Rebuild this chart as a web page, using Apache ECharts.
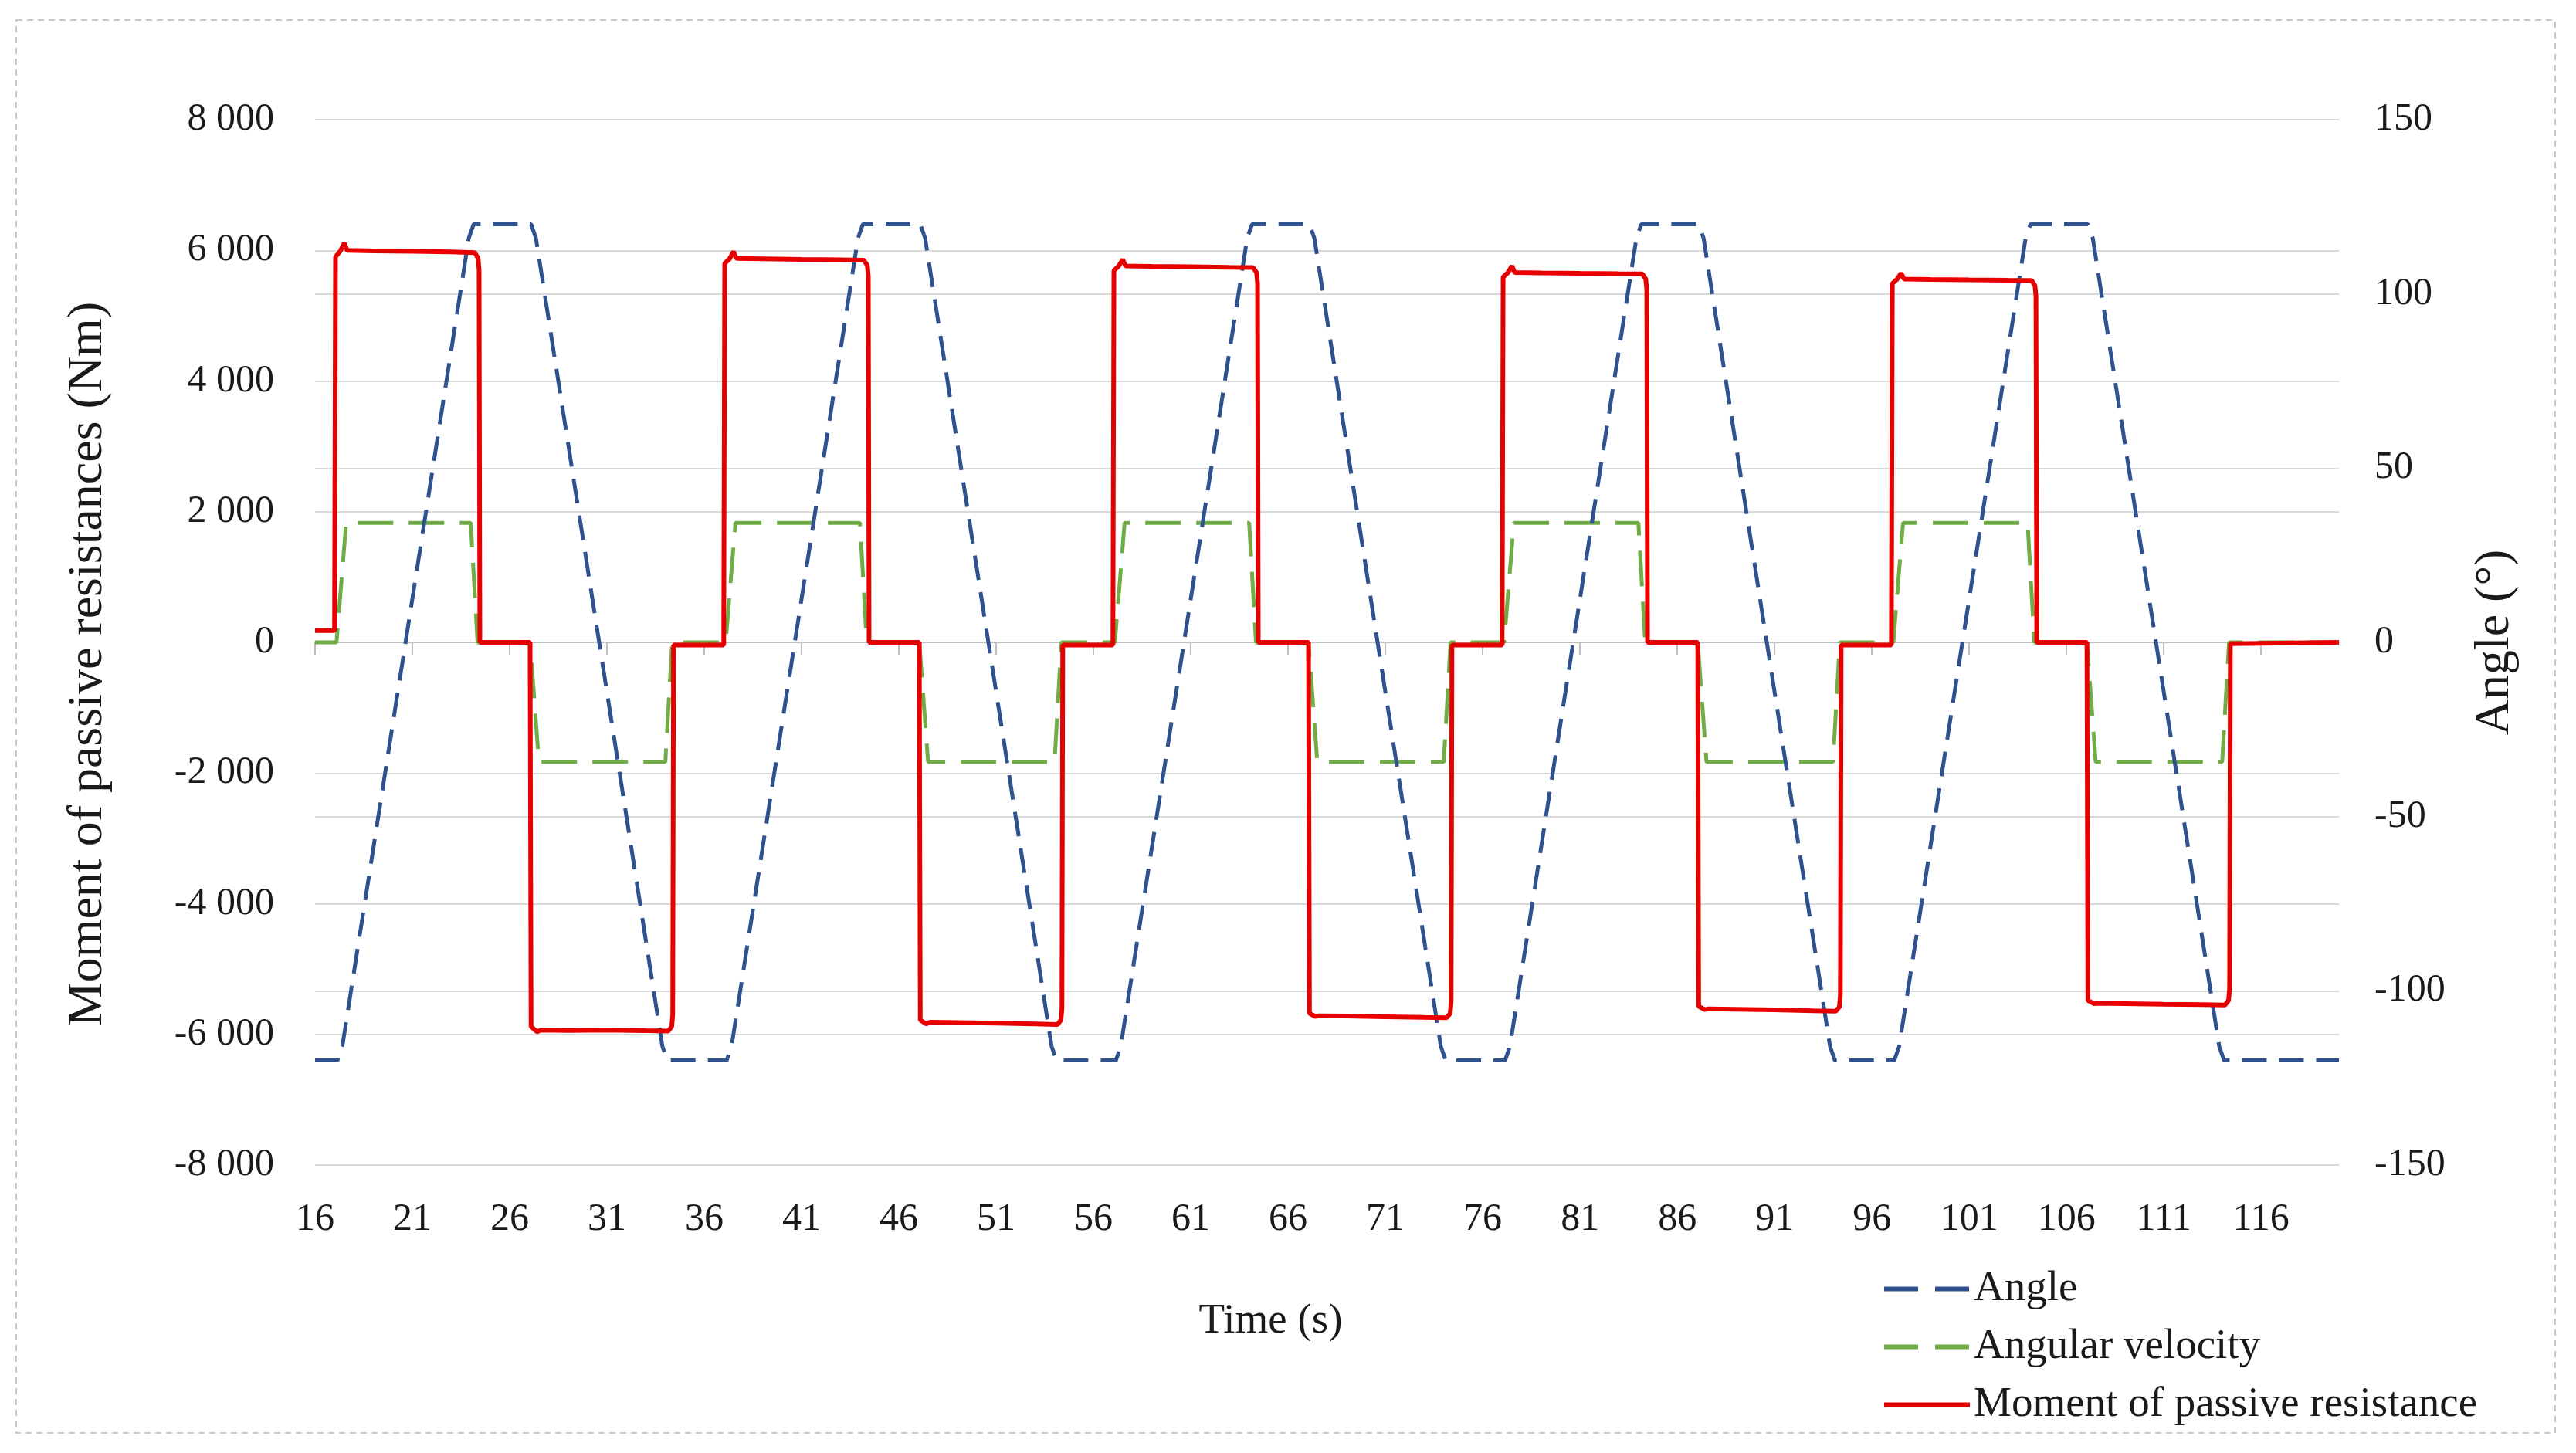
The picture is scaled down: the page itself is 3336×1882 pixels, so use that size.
<!DOCTYPE html>
<html>
<head>
<meta charset="utf-8">
<script src="https://cdn.jsdelivr.net/npm/echarts@6/dist/echarts.min.js"></script>
<style>
html,body{margin:0;padding:0;background:#fff;}
#chart{width:3336px;height:1882px;}
</style>
</head>
<body>
<div id="chart"></div>
<script>
// ---- data ----
var xTickValues = [16,21,26,31,36,41,46,51,56,61,66,71,76,81,86,91,96,101,106,111,116];
var leftTicks = [-8000,-6000,-4000,-2000,0,2000,4000,6000,8000];
var rightTicks = [-150,-100,-50,0,50,100,150];

// Angle (deg), [time s, value]
var angleData = [
[16,-120],[17.15,-120],[17.4,-116],[23.9,116],[24.15,120],[27.1,120],[27.35,116],[33.85,-116],[34.1,-120],
[37.15,-120],[37.4,-116],[43.9,116],[44.15,120],[47.1,120],[47.35,116],[53.85,-116],[54.1,-120],
[57.15,-120],[57.4,-116],[63.9,116],[64.15,120],[67.1,120],[67.35,116],[73.85,-116],[74.1,-120],
[77.15,-120],[77.4,-116],[83.9,116],[84.15,120],[87.1,120],[87.35,116],[93.85,-116],[94.1,-120],
[97.15,-120],[97.4,-116],[103.9,116],[104.15,120],[107.1,120],[107.35,116],[113.85,-116],[114.1,-120],
[120,-120]
];

// Angular velocity (deg/s), [time s, value]
var velocityData = [
[16,0],[17.1,0],[17.6,34.3],[24.0,34.3],[24.35,0],[27.05,0],[27.5,-34.3],[34.0,-34.3],[34.35,0],
[37.1,0],[37.6,34.3],[44.0,34.3],[44.35,0],[47.05,0],[47.5,-34.3],[54.0,-34.3],[54.35,0],
[57.1,0],[57.6,34.3],[64.0,34.3],[64.35,0],[67.05,0],[67.5,-34.3],[74.0,-34.3],[74.35,0],
[77.1,0],[77.6,34.3],[84.0,34.3],[84.35,0],[87.05,0],[87.5,-34.3],[94.0,-34.3],[94.35,0],
[97.1,0],[97.6,34.3],[104.0,34.3],[104.35,0],[107.05,0],[107.5,-34.3],[114.0,-34.3],[114.35,0],
[120,0]
];

// Moment of passive resistance (Nm), [time s, value]
var momentData = [
[16,180],[17.0,180],[17.05,5900],[17.3,5990],[17.5,6110],[17.65,6000],[19,5990],[21,5985],[23,5975],[24.2,5965],[24.38,5880],[24.43,5700],[24.47,0],
[27.05,0],[27.1,-5880],[27.4,-5960],[27.6,-5935],[29,-5940],[31,-5935],[33,-5945],[34.15,-5950],[34.33,-5880],[34.38,-5700],[34.42,-40],
[37.0,-40],[37.05,5800],[37.3,5870],[37.5,5980],[37.65,5875],[39,5870],[41,5862],[43,5855],[44.2,5850],[44.38,5770],[44.43,5600],[44.47,0],
[47.05,0],[47.1,-5780],[47.4,-5840],[47.6,-5815],[49,-5820],[51,-5830],[53,-5840],[54.15,-5850],[54.33,-5780],[54.38,-5600],[54.42,-40],
[57.0,-40],[57.05,5690],[57.3,5760],[57.5,5860],[57.65,5760],[59,5755],[61,5748],[63,5740],[64.2,5738],[64.38,5660],[64.43,5500],[64.47,0],
[67.05,0],[67.1,-5680],[67.4,-5725],[67.6,-5715],[69,-5720],[71,-5730],[73,-5740],[74.15,-5745],[74.33,-5680],[74.38,-5500],[74.42,-40],
[77.0,-40],[77.05,5590],[77.3,5660],[77.5,5760],[77.65,5660],[79,5655],[81,5648],[83,5642],[84.2,5640],[84.38,5560],[84.43,5400],[84.47,0],
[87.05,0],[87.1,-5570],[87.4,-5620],[87.6,-5610],[89,-5615],[91,-5625],[93,-5640],[94.15,-5645],[94.33,-5580],[94.38,-5400],[94.42,-40],
[97.0,-40],[97.05,5490],[97.3,5560],[97.5,5650],[97.65,5560],[99,5555],[101,5548],[103,5542],[104.2,5540],[104.38,5460],[104.43,5300],[104.47,0],
[107.05,0],[107.1,-5480],[107.4,-5530],[107.6,-5525],[109,-5530],[111,-5538],[113,-5545],[114.15,-5550],[114.33,-5480],[114.38,-5300],[114.42,-20],
[120,0]
];

var seriesNames = ['Angle','Angular velocity','Moment of passive resistance'];
var axisNames = {x:'Time (s)', left:'Moment of passive resistances (Nm)', right:'Angle (°)'};

// ---- chart ----
var FONT = '"Liberation Serif", "DejaVu Serif", serif';
var TXT = '#1a1a1a';
var GRID = '#d9d9d9';
var BLUE = '#2f528f', GREEN = '#70ad47', RED = '#e60000';

function fmtThousands(v){
  var s = Math.abs(v).toString();
  var out = s.replace(/\B(?=(\d{3})+(?!\d))/g, ' ');
  return (v < 0 ? '-' : '') + out;
}

var chart = echarts.init(document.getElementById('chart'), null, {renderer:'canvas'});
chart.setOption({
  animation:false,
  backgroundColor:'#ffffff',
  textStyle:{fontFamily:FONT},
  grid:{left:408, right:307, top:155, bottom:373, containLabel:false},
  graphic:[{
    type:'rect', silent:true, z:-10,
    shape:{x:21, y:26, width:3288, height:1830},
    style:{fill:'none', stroke:'#c8c8c8', lineWidth:2, lineDash:[8,6]}
  }],
  legend:{
    orient:'vertical',
    left:2432, top:1634,
    itemWidth:111, itemHeight:24, itemGap:14,
    itemStyle:{opacity:0},
    textStyle:{fontFamily:FONT, fontSize:55, color:TXT, lineHeight:61},
    data:[
      {name:seriesNames[0], lineStyle:{color:BLUE, width:6, type:[44,22]}},
      {name:seriesNames[1], lineStyle:{color:GREEN, width:6, type:[44,22]}},
      {name:seriesNames[2], lineStyle:{color:RED, width:6, type:'solid'}}
    ]
  },
  xAxis:{
    type:'value', min:16, max:120,
    name:axisNames.x, nameLocation:'middle', nameGap:175,
    nameTextStyle:{fontFamily:FONT, fontSize:55, color:TXT, padding:[0,146,0,0]},
    axisLine:{show:true, lineStyle:{color:'#bfbfbf', width:2}},
    axisTick:{show:true, length:16, lineStyle:{color:'#bfbfbf', width:2}, customValues:xTickValues},
    axisLabel:{fontFamily:FONT, fontSize:50, color:TXT, margin:46, customValues:xTickValues},
    splitLine:{show:false}
  },
  yAxis:[{
    type:'value', min:-8000, max:8000, interval:2000,
    name:axisNames.left, nameLocation:'middle', nameRotate:90, nameGap:262,
    nameTextStyle:{fontFamily:FONT, fontSize:64, color:TXT, padding:[0,56,0,0]},
    axisLine:{show:false}, axisTick:{show:false},
    axisLabel:{fontFamily:FONT, fontSize:50, color:TXT, margin:53, formatter:fmtThousands},
    splitLine:{show:true, lineStyle:{color:GRID, width:2}}
  },{
    type:'value', min:-150, max:150, interval:50, position:'right',
    name:axisNames.right, nameLocation:'middle', nameRotate:90, nameGap:170,
    nameTextStyle:{fontFamily:FONT, fontSize:64, color:TXT},
    axisLine:{show:false}, axisTick:{show:false},
    axisLabel:{fontFamily:FONT, fontSize:50, color:TXT, margin:46},
    splitLine:{show:true, lineStyle:{color:GRID, width:2}}
  }],
  series:[{
    name:seriesNames[0], type:'line', yAxisIndex:1, data:angleData,
    symbol:'none', showSymbol:false, z:3,
    lineStyle:{color:BLUE, width:5, type:[32,16]},
    itemStyle:{color:BLUE}
  },{
    name:seriesNames[1], type:'line', yAxisIndex:1, data:velocityData,
    symbol:'none', showSymbol:false, z:2,
    lineStyle:{color:GREEN, width:5, type:[46,20]},
    itemStyle:{color:GREEN}
  },{
    name:seriesNames[2], type:'line', yAxisIndex:0, data:momentData,
    symbol:'none', showSymbol:false, z:4,
    lineStyle:{color:RED, width:6},
    itemStyle:{color:RED}
  }]
});
</script>
</body>
</html>
